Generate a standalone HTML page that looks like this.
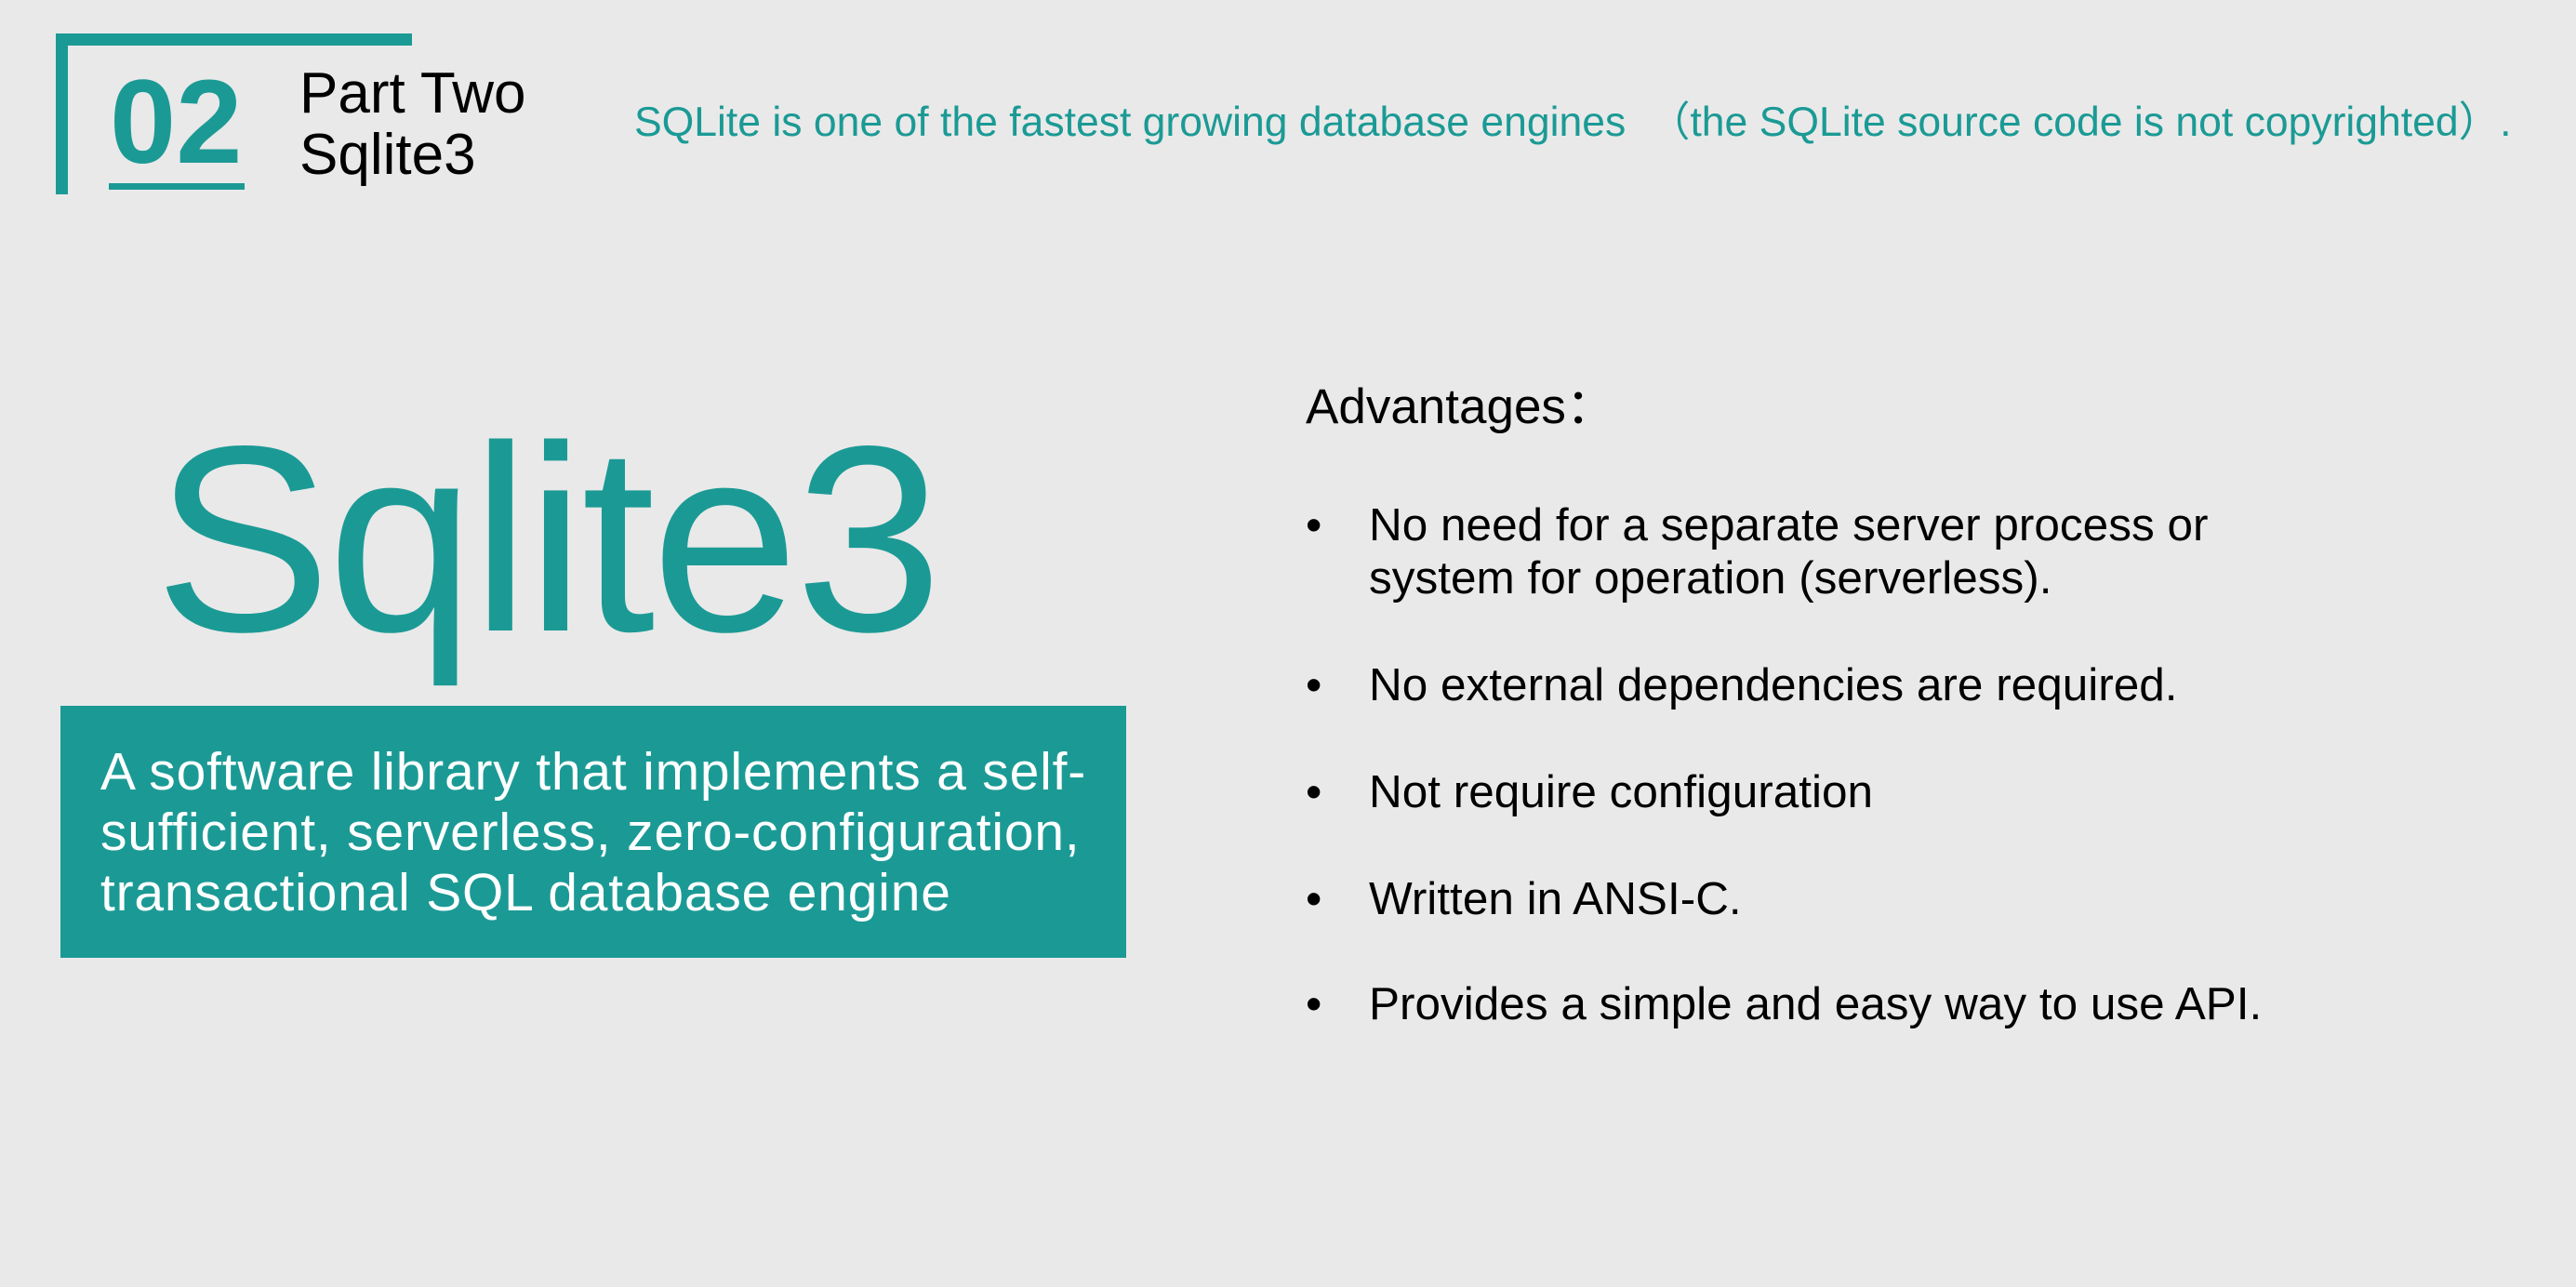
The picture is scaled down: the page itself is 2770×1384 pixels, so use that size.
<!DOCTYPE html>
<html><head><meta charset="utf-8"><style>
html,body{margin:0;padding:0}
body{width:2770px;height:1384px;background:#e9e9e9;position:relative;overflow:hidden;font-family:"Liberation Sans",sans-serif}
.a{position:absolute;white-space:nowrap}
.t{color:#1b9a95}
.bar{position:absolute;background:#1b9a95}
</style></head><body>
<div class="bar" style="left:60px;top:36px;width:383px;height:13px"></div>
<div class="bar" style="left:60px;top:36px;width:13px;height:173px"></div>
<div class="bar" style="left:117px;top:197px;width:146px;height:7px"></div>
<div class="a t" style="left:118px;top:62px;font-size:128px;font-weight:bold;line-height:140px;letter-spacing:0px">02</div>
<div class="a" style="left:322px;top:68px;font-size:62px;line-height:66px;color:#000">Part Two<br>Sqlite3</div>
<div class="a t" style="left:682px;top:106px;font-size:44.5px;line-height:52px">SQLite is one of the fastest growing database engines &nbsp;（the SQLite source code is not copyrighted）.</div>
<div class="a t" style="left:166px;top:430px;font-size:285px;line-height:300px;letter-spacing:-4px">Sqlite3</div>
<div class="bar" style="left:65px;top:759px;width:1146px;height:271px"></div>
<div class="a" style="left:108px;top:798px;font-size:57px;line-height:65px;color:#fff;letter-spacing:0.8px">A software library that implements a self-<br>sufficient, serverless, zero-configuration,<br>transactional SQL database engine</div>
<div class="a" style="left:1404px;top:408px;font-size:53px;line-height:60px;color:#000">Advantages：</div>
<div style="position:absolute;left:1404px;top:536px;font-size:49.5px;line-height:57px;color:#000">
<div style="position:absolute;left:0;top:0">•</div><div class="a" style="left:68px;top:0">No need for a separate server process or<br>system for operation (serverless).</div>
<div style="position:absolute;left:0;top:172px">•</div><div class="a" style="left:68px;top:172px">No external dependencies are required.</div>
<div style="position:absolute;left:0;top:287px">•</div><div class="a" style="left:68px;top:287px">Not require configuration</div>
<div style="position:absolute;left:0;top:402px">•</div><div class="a" style="left:68px;top:402px">Written in ANSI-C.</div>
<div style="position:absolute;left:0;top:515px">•</div><div class="a" style="left:68px;top:515px">Provides a simple and easy way to use API.</div>
</div>
</body></html>
